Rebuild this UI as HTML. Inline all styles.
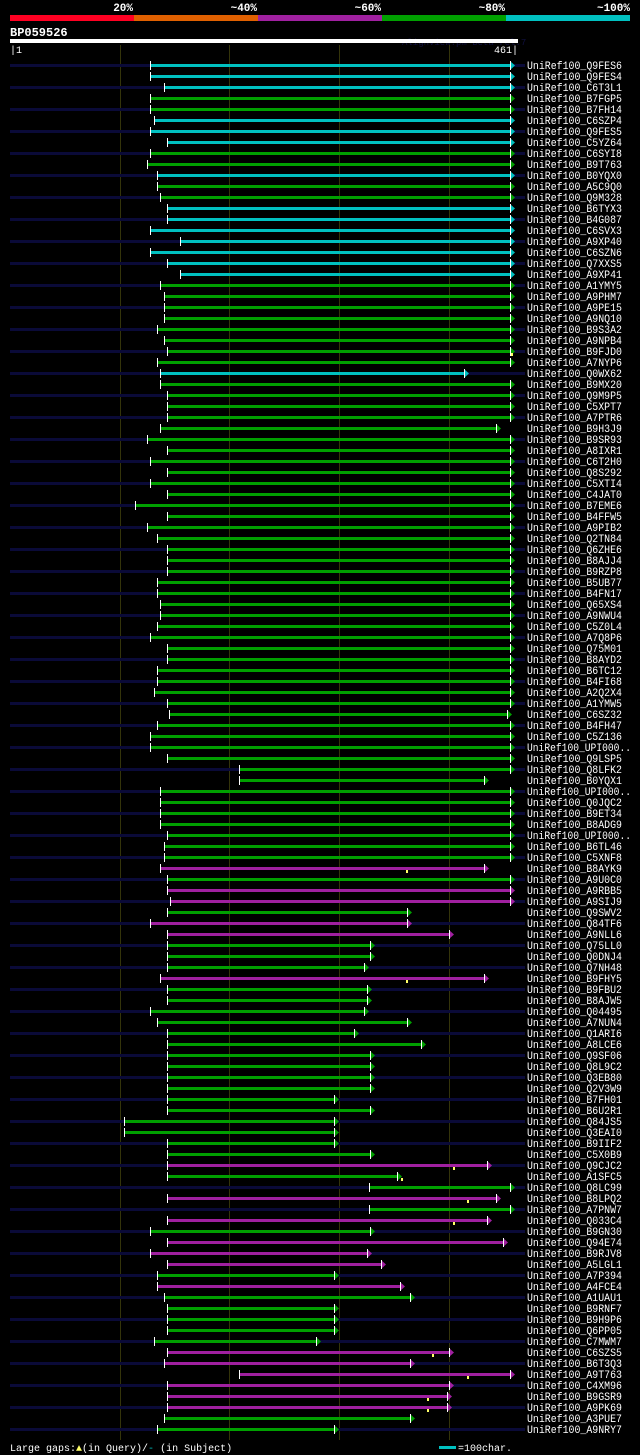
<!DOCTYPE html>
<html><head><meta charset="utf-8"><style>
html,body{margin:0;padding:0;background:#000;}
svg{display:block;font-family:"Liberation Mono","DejaVu Sans Mono",monospace;}
</style></head><body>
<svg id="chart" width="640" height="1455" viewBox="0 0 640 1455" xmlns="http://www.w3.org/2000/svg">
<rect x="0" y="0" width="640" height="1455" fill="#000"/>
<g>
<rect x="10" y="15" width="124" height="6" fill="#ff0022"/>
<rect x="134" y="15" width="124" height="6" fill="#e06000"/>
<rect x="258" y="15" width="124" height="6" fill="#a020a0"/>
<rect x="382" y="15" width="124" height="6" fill="#00a000"/>
<rect x="506" y="15" width="124" height="6" fill="#00c0c0"/>
<g font-weight="bold" font-size="11" fill="#fff" text-anchor="end">
<text x="133" y="11">20%</text>
<text x="257" y="11">~40%</text>
<text x="381" y="11">~60%</text>
<text x="505" y="11">~80%</text>
<text x="630" y="11">~100%</text>
</g></g>
<text x="10" y="36" font-size="12" font-weight="bold" fill="#fff">BP059526</text>
<text x="402" y="45" font-size="9" fill="#101040">AlignView.pm Beta rel.7</text>
<rect x="10" y="39" width="508" height="4" fill="#fff"/>
<text x="10" y="53" font-size="10" fill="#fff">|1</text>
<text x="518" y="53" font-size="10" fill="#fff" text-anchor="end">461|</text>
<g id="grid"></g>
<g id="rows"></g>
<g>
<text x="10" y="1451" font-size="10" fill="#fff">Large gaps:<tspan fill="#ffff66">▲</tspan>(in Query)/<tspan fill="#00c0c0">-</tspan> (in Subject)</text>
<rect x="439" y="1446" width="17" height="3" fill="#00c0c0"/>
<text x="458" y="1451" font-size="10" fill="#fff">=100char.</text>
</g>
</svg>
<script>
const names=["Q9FES6","Q9FES4","C6T3L1","B7FGP5","B7FH14","C6SZP4","Q9FES5","C5YZ64","C6SYI8","B9T763","B0YQX0","A5C9Q0","Q9M328","B6TYX3","B4G087","C6SVX3","A9XP40","C6SZN6","Q7XXS5","A9XP41","A1YMY5","A9PHM7","A9PE15","A9NQ10","B9S3A2","A9NPB4","B9FJD0","A7NYP6","Q0WX62","B9MX20","Q9M9P5","C5XPT7","A7PTR6","B9H3J9","B9SR93","A8IXR1","C6T2H0","Q8S292","C5XTI4","C4JAT0","B7EME6","B4FFW5","A9PIB2","Q2TN84","Q6ZHE6","B8AJJ4","B9RZP8","B5UB77","B4FN17","Q65XS4","A9NWU4","C5Z0L4","A7Q8P6","Q75M01","B8AYD2","B6TC12","B4FI68","A2Q2X4","A1YMW5","C6SZ32","B4FH47","C5Z136","UPI000..","Q9LSP5","Q8LFK2","B0YQX1","UPI000..","Q0JQC2","B9ET34","B8ADG9","UPI000..","B6TL46","C5XNF8","B8AYK9","A9U0C0","A9RBB5","A9SIJ9","Q9SWV2","Q84TF6","A9NLL6","Q75LL0","Q0DNJ4","Q7NH48","B9FHY5","B9FBU2","B8AJW5","Q04495","A7NUN4","Q1ARI6","A8LCE6","Q9SF06","Q8L9C2","Q3EB80","Q2V3W9","B7FH01","B6U2R1","Q84JS5","Q3EAI0","B9IIF2","C5X0B9","Q9CJC2","A1SFC5","Q8LC99","B8LPQ2","A7PNW7","Q033C4","B9GN30","Q94E74","B9RJV8","A5LGL1","A7P394","A4FCE4","A1UAU1","B9RNF7","B9H9P6","Q6PP05","C7MWM7","C6SZS5","B6T3Q3","A9T763","C4XM96","B9GSR9","A9PK69","A3PUE7","A9NRY7"];
const starts=[129,129,141,129,129,132,129,144,129,126,135,135,138,144,144,129,156,129,144,156,138,141,141,141,135,141,144,135,138,138,144,144,144,138,126,144,129,144,129,144,115,144,126,135,144,144,144,135,135,138,138,135,129,144,144,135,135,132,144,146,135,129,129,144,210,210,138,138,138,138,144,141,141,138,144,144,147,144,129,144,144,144,144,138,144,144,129,135,144,144,144,144,144,144,144,144,105,105,144,144,144,144,328,144,328,144,129,144,129,144,135,135,141,144,144,144,132,144,141,210,144,144,144,141,135];
const ends=[461,461,461,461,461,461,461,461,461,461,461,461,461,461,461,461,461,461,461,461,461,461,461,461,461,461,461,461,419,461,461,461,461,448,461,461,461,461,461,461,461,461,461,461,461,461,461,461,461,461,461,461,461,461,461,461,461,461,461,458,461,461,461,461,461,437,461,461,461,461,461,461,461,437,461,461,461,367,367,406,334,334,328,437,331,331,328,367,319,380,334,334,334,334,301,334,301,301,301,334,440,358,461,448,461,440,334,455,331,344,301,361,370,301,301,301,284,406,370,461,406,404,404,370,301];
const identity="CCCGGCCCGGCGGCCCCCCCGGGGGGGGCGGGGGGGGGGGGGGGGGGGGGGGGGGGGGGGGGGGGGGGGGGGGMGMMGMMGGGMGGGGGGGGGGGGGGGGMGGMGMGMMMGMGGGGGMMMMMMGG";
const gapRows=[26,73,83,100,101,103,105,117,119,121,122];
const gapPos=[458,363,363,406,358,418,406,386,418,382,382];
const gridPos=[101,201,301,401];
const colors={C:"#00c0c0",G:"#00a000",M:"#a020a0"};
const ns="http://www.w3.org/2000/svg";
function xs(p){return Math.round(10+(p-1)*1.0975);}
function ys(i){return 65+i*11;}
function mk(tag,attrs,parent){const e=document.createElementNS(ns,tag);for(const k in attrs)e.setAttribute(k,attrs[k]);parent.appendChild(e);return e;}
const grid=document.getElementById('grid');
gridPos.forEach(p=>{
  const l=mk('rect',{x:xs(p),y:45,width:1,height:1395,fill:'#34340a'},grid);
  
  
});
const rows=document.getElementById('rows');
names.forEach((n,i)=>{
  const y=ys(i);
  const g=mk('g',{},rows);
  
  
  if(i%2===0){
    const bg=mk('rect',{x:10,y:y-1,width:515,height:3,fill:'#0a0a38'},g);
    
    
  }
  const c=colors[identity[i]];
  const x0=xs(starts[i]),tip=xs(ends[i]);
  const bar=mk('rect',{x:x0,y:y-1,width:tip-5-x0,height:3,fill:c},g);
  
  
  const st=mk('rect',{x:x0,y:y-4,width:1,height:9,fill:'#fff'},g);
  
  
  const ar=mk('polygon',{points:(tip-5)+','+(y-4)+' '+tip+','+(y+0.5)+' '+(tip-5)+','+(y+5),fill:c},g);
  
  
  const aw=mk('rect',{x:tip-5,y:y-4,width:1,height:9,fill:'#fff'},g);
  
  
  const t=mk('text',{x:527,y:y+4,'font-size':11,fill:'#fff',textLength:95,lengthAdjust:'spacingAndGlyphs'},g);
  t.textContent='UniRef100_'+n;
  if(n.endsWith('..')){t.setAttribute('textLength',104);}
  
  
});
gapRows.forEach((r,k)=>{
  const y=ys(r);
  const m=mk('rect',{x:xs(gapPos[k])-1,y:y+2,width:2,height:3,fill:'#ffff66'},rows);
  
  
});
</script>
</body></html>
